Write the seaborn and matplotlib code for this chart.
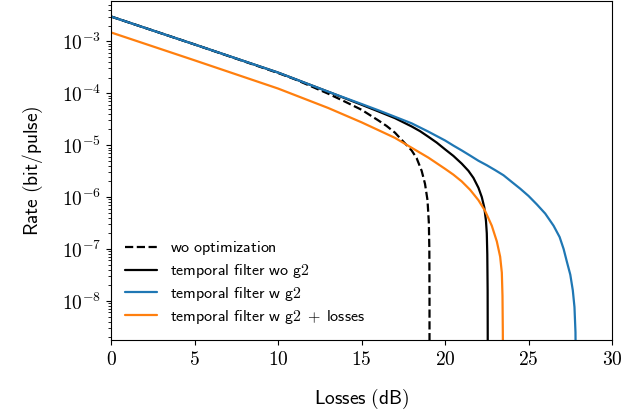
import numpy as np
import pandas as pd
import seaborn as sns
import matplotlib
matplotlib.use("Agg")
import matplotlib.pyplot as plt
from matplotlib.ticker import FuncFormatter, LogLocator, MultipleLocator, NullFormatter

# values (losses in dB, rate in bit/pulse)
wo_opt_loss = [0, 5, 10, 11, 12, 13, 14, 15, 16, 16.5, 17, 17.5, 18, 18.3, 18.6, 18.8, 18.95,
               19.03, 19.06, 19.07, 19.07]
wo_opt_rate = [3.0e-3, 8.7e-4, 2.45e-4, 1.86e-4, 1.35e-4, 9.8e-5, 6.9e-5, 4.8e-5, 3.0e-5, 2.34e-5,
               1.74e-5, 1.17e-5, 7.9e-6, 5.6e-6, 3.2e-6, 1.8e-6, 8.7e-7, 3.2e-7, 1.0e-7, 1.0e-8,
               5e-10]

tf_wo_g2_loss = [0, 5, 10, 13, 15, 16, 17, 18, 18.5, 19, 19.5, 20, 20.5, 21, 21.4, 21.7, 22.0,
                 22.2, 22.35, 22.45, 22.5, 22.53, 22.55, 22.56]
tf_wo_g2_rate = [3.0e-3, 8.7e-4, 2.5e-4, 1.07e-4, 6.0e-5, 4.47e-5, 3.31e-5, 2.29e-5, 1.86e-5,
                 1.45e-5, 1.12e-5, 8.3e-6, 6.2e-6, 4.4e-6, 3.2e-6, 2.34e-6, 1.51e-6, 1.0e-6,
                 6.3e-7, 3.5e-7, 2.0e-7, 7.9e-8, 1.6e-8, 5e-10]

tf_w_g2_loss = [0, 5, 10, 13, 15, 16, 18, 19, 20, 20.5, 21, 21.5, 22, 22.5, 23, 23.5, 24, 24.5,
                25, 25.5, 26, 26.5, 26.86, 27.1, 27.3, 27.5, 27.65, 27.75, 27.81, 27.83]
tf_w_g2_rate = [3.0e-3, 8.7e-4, 2.5e-4, 1.07e-4, 6.2e-5, 4.7e-5, 2.63e-5, 1.82e-5, 1.23e-5,
                9.8e-6, 7.9e-6, 6.3e-6, 5.0e-6, 4.1e-6, 3.3e-6, 2.63e-6, 1.95e-6, 1.45e-6,
                1.05e-6, 7.2e-7, 4.8e-7, 2.8e-7, 1.7e-7, 1.0e-7, 5.6e-8, 3.2e-8, 1.6e-8,
                7.6e-9, 2.5e-9, 5e-10]

tf_loss_loss = [0, 5, 10, 13, 15, 16, 17, 18, 19, 20, 20.5, 21, 21.5, 22, 22.4, 22.8, 23.1, 23.3,
                23.4, 23.44, 23.46, 23.47]
tf_loss_rate = [1.48e-3, 4.3e-4, 1.23e-4, 5.2e-5, 2.75e-5, 1.95e-5, 1.38e-5, 8.9e-6, 5.75e-6,
                3.5e-6, 2.7e-6, 2.0e-6, 1.38e-6, 8.7e-7, 5.4e-7, 2.8e-7, 1.4e-7, 7.1e-8, 3.5e-8,
                1.26e-8, 2.5e-9, 5e-10]

labels = ["wo optimization", "temporal filter wo g2", "temporal filter w g2",
          "temporal filter w g2 + losses"]


def mlabel(s):
    # sans text through mathtext so it matches the cm look of the original
    parts = [r"\mathsf{" + p.replace(" ", r"\ ") + "}" for p in s.split(" + ")]
    return "$" + r"\;+\;".join(parts) + "$"


def main():
    sns.set_style("ticks", rc={
        "axes.edgecolor": "black",
        "axes.linewidth": 1.2,
        "xtick.color": "black",
        "ytick.color": "black",
        "xtick.major.width": 1.2,
        "ytick.major.width": 1.2,
        "ytick.minor.width": 0.9,
        "xtick.major.size": 6,
        "ytick.major.size": 6,
        "ytick.minor.size": 3.5,
        "text.color": "black",
        "axes.labelcolor": "black",
    })
    plt.rcParams["mathtext.fontset"] = "cm"

    fig, ax = plt.subplots(figsize=(6.22, 4.2), dpi=100)
    fig.subplots_adjust(left=0.1785, right=0.984, bottom=0.19, top=0.997)

    series = [
        (wo_opt_loss, wo_opt_rate, "black", "--"),
        (tf_wo_g2_loss, tf_wo_g2_rate, "black", "-"),
        (tf_w_g2_loss, tf_w_g2_rate, "#1f77b4", "-"),
        (tf_loss_loss, tf_loss_rate, "#ff7f0e", "-"),
    ]
    for (x, y, color, ls), lab in zip(series, labels):
        df = pd.DataFrame({"loss": x, "rate": y})
        sns.lineplot(data=df, x="loss", y="rate", ax=ax, color=color, linestyle=ls,
                     linewidth=1.6, estimator=None, sort=False, label=mlabel(lab))

    ax.set_yscale("log")
    ax.set_xlim(0, 30)
    ax.set_ylim(1.75e-9, 5.9e-3)
    ax.xaxis.set_major_locator(MultipleLocator(5))
    ax.xaxis.set_major_formatter(FuncFormatter(lambda v, p: r"$%d$" % round(v)))
    ax.yaxis.set_major_locator(LogLocator(base=10, numticks=20))
    ax.yaxis.set_minor_locator(LogLocator(base=10, subs=np.arange(2, 10), numticks=20))
    ax.yaxis.set_minor_formatter(NullFormatter())
    ax.yaxis.set_major_formatter(FuncFormatter(lambda v, p: r"$10^{%d}$" % round(np.log10(v))))
    ax.tick_params(axis="both", which="major", labelsize=14)

    ax.set_xlabel(mlabel("Losses (dB)"), fontsize=14, labelpad=13)
    ax.set_ylabel(mlabel("Rate (bit/pulse)"), fontsize=14, labelpad=12)

    ax.legend(loc="lower left", frameon=False, fontsize=11.5, handlelength=2.0,
              labelspacing=0.3, borderaxespad=0.5)

    fig.savefig("out.png", dpi=100)


if __name__ == '__main__':
    main()
